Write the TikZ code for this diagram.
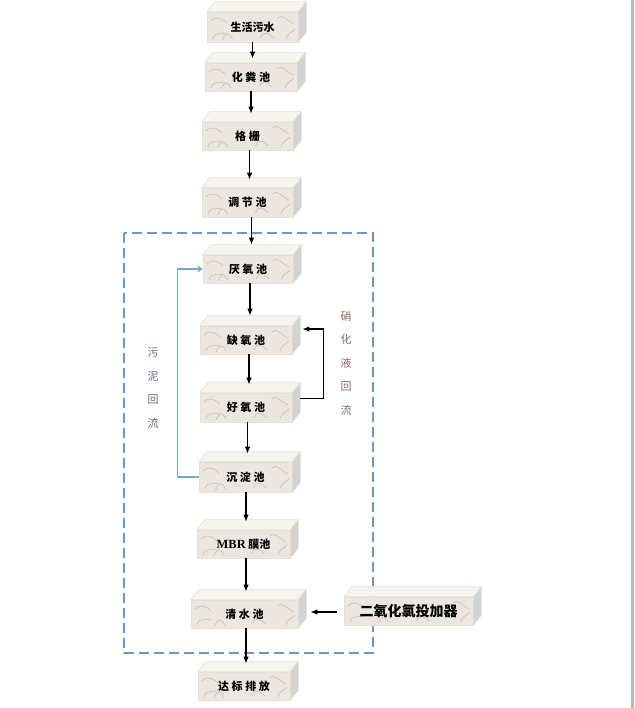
\documentclass[tikz,border=0pt]{standalone}
\usepackage{fontspec}
\setmainfont{Liberation Serif}
\newfontfamily\cjk{Noto Sans CJK SC}
\usetikzlibrary{arrows.meta}
\definecolor{facefill}{HTML}{EBE7E0}
\definecolor{topfill}{HTML}{F6F4EF}
\definecolor{sidefill}{HTML}{D2D2D2}
\definecolor{edgecream}{HTML}{E4E0D2}
\definecolor{texgray}{HTML}{C9C4BA}
\definecolor{dashblue}{HTML}{6F95C2}
\definecolor{sludgeblue}{HTML}{7BA3CF}
\definecolor{sludgetext}{HTML}{5E6A86}
\definecolor{nitrotext}{HTML}{86685F}
\definecolor{rimgray}{HTML}{B4B7BF}
\tikzset{
  pool/.style={fill=facefill, draw=edgecream, line width=0.6pt, minimum width=#1, minimum height=28pt, inner sep=0pt,
    font=\cjk\bfseries\fontsize{11}{13}\selectfont,
    path picture={
      \draw[texgray, line width=0.7pt]
        ([shift={(4pt,-9pt)}]path picture bounding box.north west) .. controls +(6pt,6pt) and +(-4pt,4pt) .. +(16pt,-2pt)
        ([shift={(-20pt,-6pt)}]path picture bounding box.north east) .. controls +(5pt,5pt) and +(-6pt,2pt) .. +(16pt,-6pt)
        ([shift={(6pt,3pt)}]path picture bounding box.south west) .. controls +(2pt,8pt) and +(-6pt,-2pt) .. +(14pt,6pt)
        ([shift={(-30pt,2pt)}]path picture bounding box.south) .. controls +(4pt,9pt) and +(-3pt,6pt) .. +(10pt,1pt)
        ([shift={(8pt,4pt)}]path picture bounding box.south) .. controls +(3pt,8pt) and +(-5pt,5pt) .. +(13pt,0pt)
        ([shift={(-12pt,3pt)}]path picture bounding box.south east) .. controls +(2pt,7pt) and +(-3pt,-4pt) .. +(9pt,10pt);
    }},
  pool/.default=92pt,
  flow/.style={-{Latex[length=7pt,width=5.5pt]}, line width=1.2pt},
  sludge/.style={-{Straight Barb[length=4pt,width=6pt]}, sludgeblue, line width=1.1pt},
  vlabel/.style={align=center, font=\cjk\fontsize{11}{23.5}\selectfont}
}
\begin{document}
\begin{tikzpicture}[x=1pt,y=-1pt]
\useasboundingbox (0,0) rectangle (634,708);
\fill[rimgray] (631,0) rectangle (634,708);
\draw[dashblue, line width=1.8pt, dash pattern=on 10pt off 5pt] (124,233) rectangle (373,653);
\node[pool=91pt, minimum height=30pt] (sewage) at (252.5,27) {生活污水};
\node[pool] (septic) at (251,77) {化 粪 池};
\node[pool=91pt] (screen) at (247.5,136) {格 栅};
\node[pool=91pt, minimum height=29pt] (equal) at (247.5,202.5) {调 节 池};
\node[pool=90pt] (anaer) at (248,269) {厌 氧 池};
\node[pool] (anox) at (246,340) {缺 氧 池};
\node[pool, minimum height=29pt] (aer) at (246,407.5) {好 氧 池};
\node[pool=93pt, minimum height=30pt] (settle) at (245.5,477) {沉 淀 池};
\node[pool=93pt] (mbr) at (243.5,544) {{\rmfamily\bfseries\fontsize{12.5}{13}\selectfont MBR} 膜池};
\node[pool=107pt] (clear) at (244.5,614) {清 水 池};
\node[pool=129pt, font=\cjk\bfseries\fontsize{14}{15}\selectfont] (dosing) at (408.5,611) {二氧化氯投加器};
\node[pool] (outlet) at (244,686) {达 标 排 放};
\foreach \n in {sewage,septic,screen,equal,anaer,anox,aer,settle,mbr,clear,dosing,outlet}{
  \filldraw[fill=topfill, draw=edgecream, line width=0.6pt] (\n.north west) -- ([shift={(8pt,10pt)}]\n.north west) -- ([shift={(8pt,10pt)}]\n.north east) -- (\n.north east) -- cycle;
  \filldraw[fill=sidefill, draw=edgecream, line width=0.6pt] (\n.north east) -- ([shift={(8pt,10pt)}]\n.north east) -- ([shift={(8pt,10pt)}]\n.south east) -- (\n.south east) -- cycle;
}
\draw[flow] (sewage.south) -- ([yshift=4pt]sewage.south |- septic.north);
\draw[flow] (septic.south) -- ([yshift=8pt]septic.south |- screen.north);
\draw[flow] ([xshift=2pt]screen.south) -- ([shift={(2pt,8pt)}]screen.south |- equal.north);
\draw[flow] ([xshift=4pt]equal.south) -- ([shift={(4pt,10pt)}]equal.south |- anaer.north);
\draw[flow] ([xshift=2pt]anaer.south) -- ([shift={(2pt,10pt)}]anaer.south |- anox.north);
\draw[flow] ([xshift=3pt]anox.south) -- ([shift={(3pt,8pt)}]anox.south |- aer.north);
\draw[flow] ([xshift=1.5pt]aer.south) -- ([shift={(1.5pt,8pt)}]aer.south |- settle.north);
\draw[flow] ([xshift=0.5pt]settle.south) -- ([shift={(0.5pt,8pt)}]settle.south |- mbr.north);
\draw[flow] ([xshift=2.5pt]mbr.south) -- ([shift={(2.5pt,8pt)}]mbr.south |- clear.north);
\draw[flow] ([xshift=1.5pt]clear.south) -- ([shift={(1.5pt,8pt)}]clear.south |- outlet.north);
\draw[flow] ([xshift=-7pt,yshift=-1pt]dosing.west) -- ([xshift=12pt,yshift=-1pt]clear.east |- dosing.west);
\draw[flow] ([shift={(8pt,9pt)}]aer.east) -- ++(23,0) |- ([shift={(10pt,11pt)}]anox.east);
\draw[sludge] (settle.west) -- ++(-21,0) |- (anaer.west);
\node[vlabel, text=sludgetext] (sludgelbl) at (153,388) {污\\泥\\回\\流};
\node[vlabel, text=nitrotext] (nitrolbl) at (346,363) {硝\\化\\液\\回\\流};
\end{tikzpicture}
\end{document}
